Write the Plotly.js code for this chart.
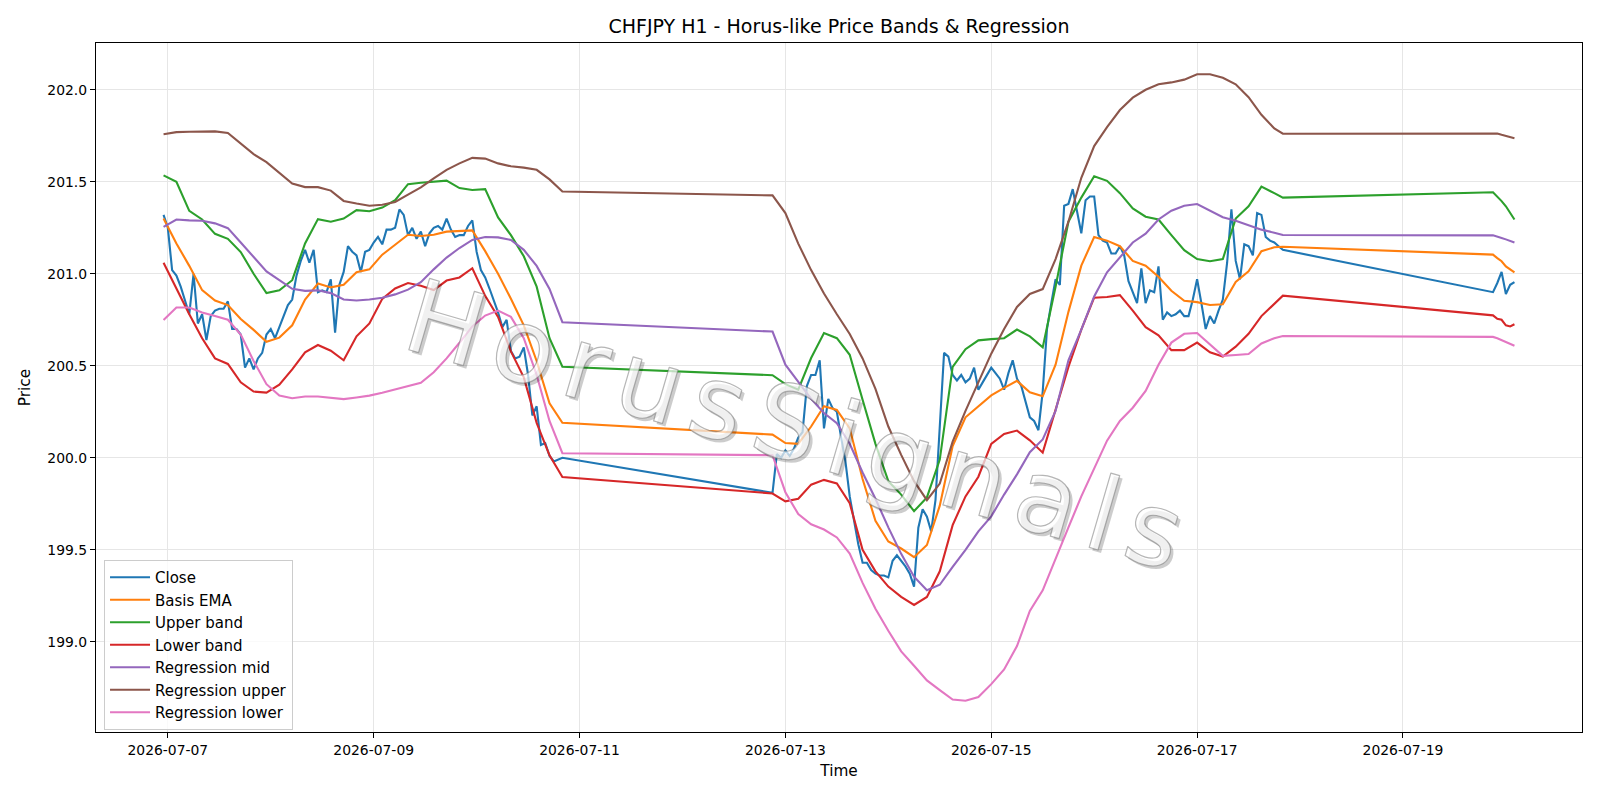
<!DOCTYPE html>
<html><head><meta charset="utf-8">
<script src="https://cdn.plot.ly/plotly-3.0.1.min.js"></script>
<style>html,body{margin:0;padding:0;background:#fff}#chart{width:1600px;height:800px}</style>
</head><body><div id="chart"></div>
<script>
// hours are counted from 2026-07-07 00:00
const closeSegStart = [-1, 141, 309];
const closeSegLen = [94, 120, 6];
const close = [
 201.32,201.25,201.02,200.99,200.93,200.86,200.78,201.00,200.73,200.78,200.64,200.77,200.80,200.81,200.81,200.85,
 200.70,200.70,200.67,200.49,200.54,200.48,200.54,200.57,200.67,200.70,200.65,200.71,200.77,200.83,200.86,200.99,
 201.07,201.13,201.06,201.13,200.90,200.91,200.90,200.97,200.68,200.94,201.01,201.15,201.12,201.10,201.01,201.12,
 201.13,201.17,201.20,201.16,201.24,201.24,201.25,201.35,201.32,201.21,201.25,201.19,201.23,201.15,201.22,201.25,
 201.26,201.24,201.30,201.24,201.20,201.21,201.21,201.26,201.29,201.12,201.02,200.98,200.92,200.86,200.79,200.71,
 200.75,200.58,200.54,200.55,200.60,200.45,200.23,200.28,200.07,200.08,200.01,199.98,199.99,200.00,
 199.81,200.02,200.00,200.04,200.01,200.05,200.11,200.14,200.39,200.45,200.45,200.53,200.16,200.32,200.27,200.25,
 200.11,199.98,199.79,199.65,199.53,199.43,199.43,199.39,199.37,199.36,199.36,199.35,199.44,199.47,199.44,199.41,
 199.37,199.30,199.62,199.72,199.68,199.60,199.77,200.17,200.57,200.55,200.45,200.42,200.45,200.41,200.43,200.49,
 200.37,200.41,200.45,200.49,200.46,200.43,200.37,200.46,200.53,200.43,200.39,200.30,200.22,200.20,200.15,200.36,
 200.70,200.84,200.97,200.94,201.37,201.38,201.46,201.34,201.22,201.40,201.42,201.42,201.21,201.18,201.17,201.11,
 201.11,201.15,201.10,200.96,200.90,200.84,201.03,200.84,200.91,200.90,201.04,200.75,200.79,200.77,200.78,200.80,
 200.77,200.77,200.86,200.97,200.84,200.70,200.77,200.73,200.80,200.86,201.06,201.35,201.07,200.97,201.16,201.15,
 201.10,201.33,201.32,201.20,201.18,201.17,201.15,201.13,
 200.90,200.95,201.01,200.89,200.94,200.955
];
const bandHours = [
 -1,2,5,8,11,14,17,20,23,26,29,32,35,38,41,44,47,50,53,56,59,62,65,68,71,74,77,80,83,86,89,92,
 141,144,147,150,153,156,159,162,165,168,171,174,177,180,183,186,189,192,195,198,201,204,207,210,213,216,219,222,225,228,231,234,237,240,243,246,249,252,255,258,260,
 309,310,311,312,313,314
];
const basisEma = [
 201.30,201.165,201.043,200.911,200.855,200.83,200.754,200.695,200.63,200.653,200.72,200.86,200.947,200.926,200.94,201.008,201.024,
 201.104,201.158,201.212,201.205,201.212,201.229,201.233,201.236,201.123,201.0,200.864,200.72,200.526,200.296,200.19,
 200.126,200.08,200.076,200.17,200.28,200.26,200.16,199.885,199.658,199.545,199.507,199.46,199.526,199.74,200.064,200.22,200.28,
 200.339,200.38,200.418,200.356,200.334,200.506,200.793,201.044,201.20,201.18,201.15,201.07,201.044,200.984,200.908,200.853,200.846,200.83,
 200.834,200.956,201.013,201.123,201.144,201.147,
 201.104,201.085,201.068,201.04,201.025,201.008
];
const upperBand = [
 201.535,201.50,201.342,201.295,201.217,201.19,201.118,201.0,200.895,200.91,200.965,201.165,201.297,201.283,201.30,201.346,201.34,
 201.36,201.40,201.487,201.495,201.50,201.506,201.466,201.455,201.46,201.306,201.21,201.095,200.93,200.65,200.495,
 200.449,200.40,200.37,200.542,200.678,200.65,200.56,200.315,200.076,199.873,199.80,199.71,199.785,199.99,200.494,200.59,200.638,
 200.645,200.65,200.697,200.66,200.60,200.93,201.283,201.414,201.53,201.505,201.438,201.355,201.31,201.295,201.21,201.128,201.08,201.068,
 201.08,201.30,201.367,201.474,201.438,201.414,
 201.443,201.42,201.395,201.367,201.33,201.295
];
const lowerBand = [
 201.06,200.92,200.78,200.65,200.54,200.51,200.41,200.36,200.354,200.397,200.48,200.573,200.613,200.582,200.53,200.66,200.73,
 200.864,200.92,200.95,200.935,200.912,200.963,200.98,201.03,200.88,200.766,200.578,200.437,200.19,200.013,199.896,
 199.806,199.763,199.777,199.854,199.88,199.861,199.753,199.50,199.383,199.30,199.244,199.20,199.244,199.383,199.634,199.79,199.897,
 200.076,200.13,200.148,200.095,200.028,200.255,200.494,200.697,200.87,200.874,200.884,200.80,200.71,200.666,200.585,200.585,200.626,200.573,
 200.55,200.604,200.674,200.77,200.84,200.881,
 200.774,200.755,200.75,200.72,200.714,200.726
];
const regMid = [
 201.255,201.295,201.29,201.288,201.274,201.248,201.17,201.09,201.013,200.966,200.918,200.907,200.91,200.895,200.86,200.855,200.86,
 200.87,200.888,200.914,200.954,201.024,201.088,201.14,201.184,201.20,201.198,201.184,201.13,201.043,200.918,200.737,
 200.686,200.506,200.41,200.32,200.243,200.188,200.076,199.92,199.777,199.622,199.478,199.354,199.28,199.31,199.407,199.50,199.60,
 199.682,199.80,199.91,200.03,200.10,200.255,200.53,200.697,200.877,201.008,201.09,201.17,201.218,201.295,201.343,201.37,201.379,201.343,
 201.307,201.288,201.266,201.24,201.223,201.211,
 201.209,201.204,201.195,201.187,201.18,201.17
];
const regUpper = [
 201.758,201.770,201.772,201.774,201.774,201.765,201.706,201.65,201.607,201.546,201.49,201.471,201.471,201.452,201.396,201.382,201.37,
 201.375,201.39,201.43,201.47,201.518,201.565,201.60,201.63,201.626,201.60,201.584,201.577,201.565,201.513,201.447,
 201.426,201.33,201.164,201.02,200.893,200.78,200.673,200.54,200.375,200.17,200.016,199.873,199.77,199.86,200.088,200.255,200.41,
 200.566,200.70,200.82,200.89,200.917,201.08,201.283,201.522,201.694,201.797,201.89,201.957,202.0,202.03,202.04,202.055,202.084,202.084,
 202.065,202.03,201.96,201.864,201.79,201.761,
 201.765,201.762,201.755,201.75,201.745,201.737
];
const regLower = [
 200.749,200.817,200.817,200.79,200.77,200.75,200.67,200.526,200.40,200.338,200.324,200.333,200.333,200.326,200.319,200.328,200.338,
 200.354,200.373,200.39,200.408,200.465,200.54,200.625,200.714,200.773,200.80,200.766,200.65,200.45,200.20,200.025,
 200.014,199.813,199.694,199.639,199.61,199.567,199.479,199.32,199.18,199.06,198.948,198.87,198.79,198.737,198.686,198.68,198.70,
 198.77,198.85,198.977,199.168,199.28,199.455,199.622,199.79,199.945,200.093,200.20,200.272,200.363,200.506,200.626,200.674,200.678,200.614,
 200.554,200.559,200.564,200.621,200.65,200.662,
 200.657,200.65,200.64,200.628,200.618,200.609
];
const seriesNames = ['Close','Basis EMA','Upper band','Lower band','Regression mid','Regression upper','Regression lower'];
const titleText = 'CHFJPY H1 - Horus-like Price Bands & Regression';
const watermarkText = 'HorusSignals';

const BASE = Date.UTC(2026, 6, 7, 0, 0, 0);
function hourToStr(h){ return new Date(BASE + h*3600000).toISOString().slice(0,19).replace('T',' '); }
const closeHours = [];
closeSegStart.forEach((s,k)=>{ for(let i=0;i<closeSegLen[k];i++) closeHours.push(s+i); });
const xClose = closeHours.map(hourToStr);
const xBand = bandHours.map(hourToStr);

const colors = ['#1f77b4','#ff7f0e','#2ca02c','#d62728','#9467bd','#8c564b','#e377c2'];
const ys = [close, basisEma, upperBand, lowerBand, regMid, regUpper, regLower];
const FONT = 'DejaVu Sans, Liberation Sans, sans-serif';

const data = ys.map((y,i)=>({
  type:'scatter', mode:'lines', x: i===0 ? xClose : xBand, y: y,
  name: seriesNames[i],
  line:{color:colors[i], width:2.1}, hoverinfo:'skip'
}));

const firstH = closeHours[0], lastH = closeHours[closeHours.length-1];
const padH = (lastH-firstH)*0.05;
const yMin = Math.min(...ys.flat()), yMax = Math.max(...ys.flat());
const padY = (yMax-yMin)*0.05;

const axisCommon = {
  showline:true, mirror:true, linecolor:'#000', linewidth:1.1,
  ticks:'outside', ticklen:5, tickwidth:1.1, tickcolor:'#000',
  showgrid:true, gridcolor:'#e6e6e6', gridwidth:1.1, zeroline:false,
  tickfont:{family:FONT, size:13.9, color:'#000'}, automargin:false
};

// watermark: soft drop shadow + outlined translucent face
const wmBase = {text:watermarkText, xref:'paper', yref:'paper', x:0.474, y:0.443, xanchor:'center', yanchor:'middle',
                textangle:16.2, showarrow:false};
const wmFont = c => ({family:FONT, size:102, color:c});
const wm = [
  Object.assign({}, wmBase, {xshift:3, yshift:-3, font:wmFont('rgba(0,0,0,0.2)')}),
  Object.assign({}, wmBase, {font:wmFont('rgba(255,255,255,0.7)')})
];

const layout = {
  width:1600, height:800,
  margin:{l:96, r:18, t:43, b:68},
  paper_bgcolor:'#fff', plot_bgcolor:'#fff',
  font:{family:FONT, color:'#000'},
  title:{text:titleText, x:0.5, xref:'paper', xanchor:'center', y:1-26/800, yref:'container', yanchor:'middle',
         font:{family:FONT, size:19, color:'#000'}},
  xaxis:Object.assign({}, axisCommon, {
    type:'date', range:[hourToStr(firstH-padH), hourToStr(lastH+padH)],
    tick0:'2026-07-07', dtick:172800000, tickformat:'%Y-%m-%d',
    title:{text:'Time', font:{family:FONT, size:15.3, color:'#000'}, standoff:8}
  }),
  yaxis:Object.assign({}, axisCommon, {
    range:[yMin-padY, yMax+padY], tick0:199, dtick:0.5, tickformat:'.1f',
    title:{text:'Price', font:{family:FONT, size:15.3, color:'#000'}, standoff:13}
  }),
  showlegend:true,
  legend:{x:0.0054, y:0.2496, xanchor:'left', yanchor:'top', bgcolor:'rgba(255,255,255,0.8)',
          bordercolor:'#cccccc', borderwidth:1, font:{family:FONT, size:15, color:'#000'},
          itemwidth:40},
  annotations: wm
};

Plotly.newPlot('chart', data, layout, {staticPlot:true, displayModeBar:false}).then(() => {
  document.querySelectorAll('.annotation text.annotation-text').forEach(el => { el.style.letterSpacing = '12.5px'; });
  const face = document.querySelector('.annotation[data-index="1"] text.annotation-text');
  if (face) {
    face.style.stroke = 'rgba(110,110,110,0.5)';
    face.style.strokeWidth = '1.2px';
    face.style.strokeLinejoin = 'round';
  }
});
</script></body></html>
